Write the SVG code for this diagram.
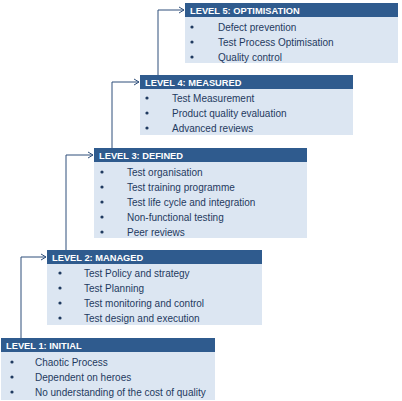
<svg xmlns="http://www.w3.org/2000/svg" width="402" height="401" viewBox="0 0 402 401">
<style>
.hd{fill:#2F5B8E}
.bd{fill:#DCE6F2}
.ht{font-family:"Liberation Sans",Arial,sans-serif;font-weight:bold;font-size:9.3px;fill:#FFFFFF}
.tx{font-family:"Liberation Sans",Arial,sans-serif;font-size:10px;fill:#1F3A5F}
.bu{fill:#1F3A5F}
.cn{fill:none;stroke:#2F4F7A;stroke-width:1}
</style>
<defs>
<marker id="ar" markerWidth="8" markerHeight="8" refX="6" refY="4" orient="auto" markerUnits="userSpaceOnUse">
<path d="M1,1 L6,4 L1,7" fill="none" stroke="#2F4F7A" stroke-width="1"/>
</marker>
</defs>
<g id="connectors">
<path class="cn" d="M21,338 V257 H46" marker-end="url(#ar)"/>
<path class="cn" d="M66,250 V155 H93" marker-end="url(#ar)"/>
<path class="cn" d="M112,148 V82 H139" marker-end="url(#ar)"/>
<path class="cn" d="M158,75 V10 H184" marker-end="url(#ar)"/>
</g>
<g id="level1">
<rect class="bd" x="1" y="352" width="214" height="48"/>
<rect class="hd" x="1" y="338" width="214" height="14"/>
<text class="ht" x="6" y="348.5">LEVEL 1: INITIAL</text>
<circle class="bu" cx="12" cy="362" r="1.6"/><text class="tx" x="35" y="365.5">Chaotic Process</text>
<circle class="bu" cx="12" cy="377" r="1.6"/><text class="tx" x="35" y="380.5">Dependent on heroes</text>
<circle class="bu" cx="12" cy="392" r="1.6"/><text class="tx" x="35" y="395.5">No understanding of the cost of quality</text>
</g>
<g id="level2">
<rect class="bd" x="47" y="264" width="215" height="61"/>
<rect class="hd" x="47" y="250" width="215" height="14"/>
<text class="ht" x="52" y="260.5">LEVEL 2: MANAGED</text>
<circle class="bu" cx="60" cy="273" r="1.6"/><text class="tx" x="84" y="276.5">Test Policy and strategy</text>
<circle class="bu" cx="60" cy="288" r="1.6"/><text class="tx" x="84" y="291.5">Test Planning</text>
<circle class="bu" cx="60" cy="303" r="1.6"/><text class="tx" x="84" y="306.5">Test monitoring and control</text>
<circle class="bu" cx="60" cy="318" r="1.6"/><text class="tx" x="84" y="321.5">Test design and execution</text>
</g>
<g id="level3">
<rect class="bd" x="94" y="162" width="213" height="76"/>
<rect class="hd" x="94" y="148" width="213" height="14"/>
<text class="ht" x="99" y="158.5">LEVEL 3: DEFINED</text>
<circle class="bu" cx="102" cy="172" r="1.6"/><text class="tx" x="127" y="175.5">Test organisation</text>
<circle class="bu" cx="102" cy="187" r="1.6"/><text class="tx" x="127" y="190.5">Test training programme</text>
<circle class="bu" cx="102" cy="202" r="1.6"/><text class="tx" x="127" y="205.5">Test life cycle and integration</text>
<circle class="bu" cx="102" cy="217" r="1.6"/><text class="tx" x="127" y="220.5">Non-functional testing</text>
<circle class="bu" cx="102" cy="232" r="1.6"/><text class="tx" x="127" y="235.5">Peer reviews</text>
</g>
<g id="level4">
<rect class="bd" x="140" y="89" width="213" height="46"/>
<rect class="hd" x="140" y="75" width="213" height="14"/>
<text class="ht" x="145" y="85.5">LEVEL 4: MEASURED</text>
<circle class="bu" cx="147" cy="98" r="1.6"/><text class="tx" x="172" y="101.5">Test Measurement</text>
<circle class="bu" cx="147" cy="113" r="1.6"/><text class="tx" x="172" y="116.5">Product quality evaluation</text>
<circle class="bu" cx="147" cy="128" r="1.6"/><text class="tx" x="172" y="131.5">Advanced reviews</text>
</g>
<g id="level5">
<rect class="bd" x="185" y="17" width="213" height="46"/>
<rect class="hd" x="185" y="3" width="213" height="14"/>
<text class="ht" x="190" y="13.5">LEVEL 5: OPTIMISATION</text>
<circle class="bu" cx="192" cy="27" r="1.6"/><text class="tx" x="218" y="30.5">Defect prevention</text>
<circle class="bu" cx="192" cy="42" r="1.6"/><text class="tx" x="218" y="45.5">Test Process Optimisation</text>
<circle class="bu" cx="192" cy="57" r="1.6"/><text class="tx" x="218" y="60.5">Quality control</text>
</g>
</svg>
